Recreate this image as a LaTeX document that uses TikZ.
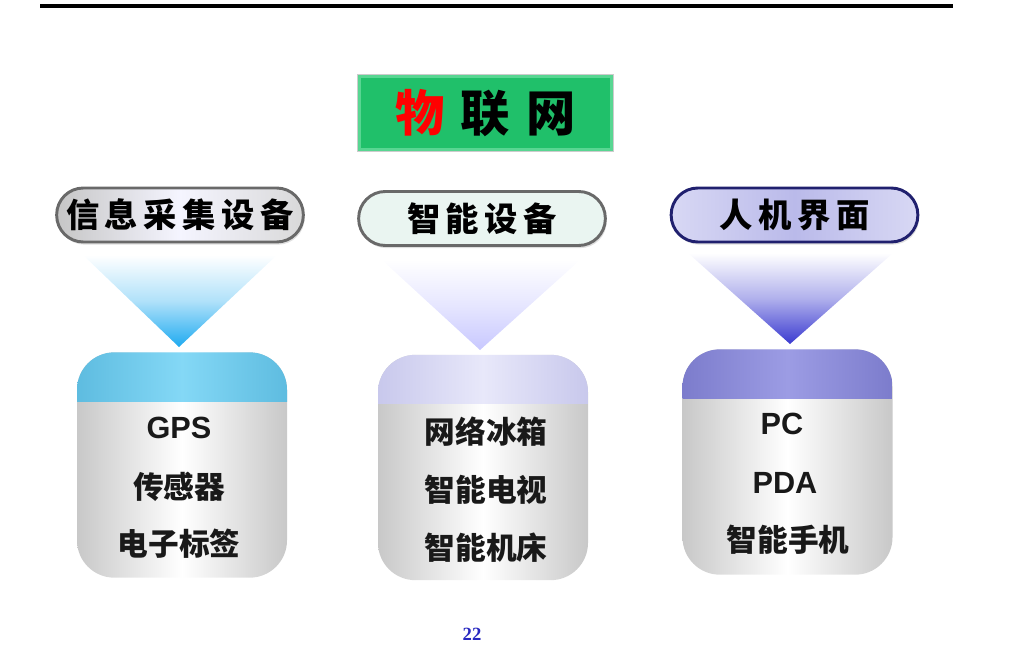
\documentclass[tikz,border=0pt]{standalone}
\usepackage{fontspec}
\setmainfont{Liberation Sans}
\newfontfamily\cjk{Noto Sans CJK SC}
\newfontfamily\numfont{Liberation Serif}
\usetikzlibrary{shadows}

\definecolor{titlegreen}{RGB}{32,192,106}
\definecolor{titleedge}{RGB}{88,214,146}
\definecolor{pillgrayedge}{RGB}{105,105,105}
\definecolor{pillnavy}{RGB}{32,32,110}
\definecolor{bodygray}{RGB}{200,200,200}
\definecolor{skyedge}{RGB}{94,188,224}
\definecolor{skymid}{RGB}{132,216,246}
\definecolor{lavedge}{RGB}{200,200,236}
\definecolor{lavmid}{RGB}{232,232,250}
\definecolor{violedge}{RGB}{124,124,204}
\definecolor{violmid}{RGB}{156,156,228}
\definecolor{funblue}{RGB}{30,170,240}
\definecolor{funlav}{RGB}{200,200,255}
\definecolor{funindigo}{RGB}{58,58,208}
\definecolor{pagenum}{RGB}{40,40,192}

\tikzset{
  titlebox/.style={fill=titlegreen, draw=titleedge, line width=2.5pt,
    minimum width=189pt, minimum height=55pt, inner sep=0pt,
    preaction={draw=gray!40, line width=3.5pt}},
  pill/.style={rounded corners=20pt, minimum width=185pt, minimum height=40.5pt,
    line width=2.2pt, inner sep=0pt,
    drop shadow={opacity=0.25, shadow xshift=1pt, shadow yshift=-2pt}},
  pilltext/.style={font=\cjk\bfseries\fontsize{25}{28}\selectfont, text=black},
  devbox/.style={rounded corners=28pt, minimum width=157.5pt, minimum height=169pt,
    inner sep=0pt, left color=bodygray, right color=bodygray, middle color=white},
  band/.style 2 args={path picture={
    \shade[sharp corners, left color=#1, right color=#1, middle color=#2]
      (path picture bounding box.north west) rectangle
      ([yshift=-36.75pt]path picture bounding box.north east);}},
  itemcjk/.style={font=\cjk\bfseries\fontsize{23}{26}\selectfont, text=black!90},
  itemlat/.style={font=\bfseries\fontsize{23}{26}\selectfont, text=black!90},
}

\begin{document}
\begin{tikzpicture}[x=0.75pt, y=-0.75pt]
\useasboundingbox (0,0) rectangle (1031,659);

% rule across the top of the page
\coordinate (ruleL) at (40,6.5);
\coordinate (ruleR) at (953,6.5);
\draw[line width=3pt] (ruleL) -- (ruleR);

% title
\node[titlebox] (title) at (485.5,113)
  {\cjk\bfseries\fontsize{37}{40}\selectfont
   \textcolor{red}{物}\hspace{12pt}联\hspace{12pt}网};

% category pills
\node[pill, draw=pillgrayedge, left color=gray!45, right color=gray!30, middle color=blue!4]
  (p1) at (180,215) {};
\node[pilltext] (p1t) at (p1) {信\,息\,采\,集\,设\,备};

\node[pill, draw=pillgrayedge, fill={rgb,255:red,234;green,245;blue,241}]
  (p2) at (482,218.5) {};
\node[pilltext] (p2t) at (p2) {智\,能\,设\,备};

\node[pill, draw=pillnavy, left color={rgb,255:red,216;green,216;blue,244},
  right color={rgb,255:red,216;green,216;blue,244},
  middle color={rgb,255:red,186;green,186;blue,234}]
  (p3) at (794.5,215) {};
\node[pilltext] (p3t) at (p3) {人\,机\,界\,面};

% funnels below the pills
\shade[top color=white, bottom color=funblue, middle color=funblue!35]
  (83,255) -- (277,255) -- (179,347) -- cycle;
\shade[top color=white, bottom color=funlav, middle color=funlav!45]
  (382,260) -- (580,260) -- (480,350) -- cycle;
\shade[top color=white, bottom color=funindigo, middle color=funindigo!40]
  (688,253) -- (893,253) -- (790,344) -- cycle;

% device boxes
\node[devbox, band={skyedge}{skymid}] (b1) at (182,465) {};
\node[itemlat] (b1a) at (179,428) {GPS};
\node[itemcjk] (b1b) at (179,487) {传感器};
\node[itemcjk] (b1c) at (179,544) {电子标签};

\node[devbox, band={lavedge}{lavmid}] (b2) at (483,467.5) {};
\node[itemcjk] (b2a) at (486,432) {网络冰箱};
\node[itemcjk] (b2b) at (486,490) {智能电视};
\node[itemcjk] (b2c) at (486,548) {智能机床};

\node[devbox, band={violedge}{violmid}] (b3) at (787.5,462) {};
\node[itemlat] (b3a) at (782,424) {PC};
\node[itemlat] (b3b) at (785,483) {PDA};
\node[itemcjk] (b3c) at (788,540) {智能手机};

% page number
\node[font=\numfont\bfseries\fontsize{14}{16}\selectfont, text=pagenum] (page) at (472,634) {22};
\end{tikzpicture}
\end{document}
